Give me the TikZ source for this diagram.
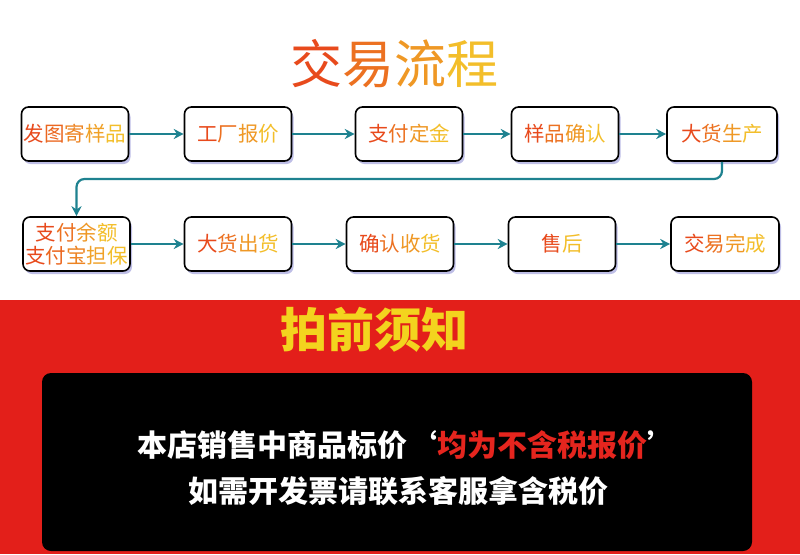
\documentclass[tikz,border=0pt]{standalone}
\usepackage{fontspec}
\setmainfont{Noto Sans CJK SC}
\usetikzlibrary{arrows.meta,shadows}

\definecolor{gradA}{HTML}{E84A1C}
\definecolor{gradB}{HTML}{F3BE2A}
\definecolor{flowteal}{HTML}{1E8290}
\definecolor{noticered}{HTML}{E31F1A}
\definecolor{noticeyellow}{HTML}{F3D41E}
\definecolor{quotered}{HTML}{E5251E}

% characters of #2 coloured from gradA to gradB, #1 = how many
\newcommand\gradtext[2]{%
  \foreach \ch [count=\i] in {#2}{%
    \pgfmathtruncatemacro\pct{100-100*(\i-1)/max(#1-1,1)}%
    \textcolor{gradA!\pct!gradB}{\ch}}}

\tikzset{
  stepbox/.style={draw=black,line width=1.6pt,fill=white,rounded corners=7pt,
    minimum width=107pt,minimum height=54pt,inner sep=0pt,
    font=\fontsize{20.5}{23}\selectfont,
    drop shadow={shadow xshift=2pt,shadow yshift=-3pt,fill=blue!45!gray,opacity=.35}},
  flow/.style={draw=flowteal,line width=2.2pt,-{Stealth[length=10pt,width=10pt]}}
}

\begin{document}
\begin{tikzpicture}[x=1pt,y=-1pt]
  \useasboundingbox (0,0) rectangle (800,554);
  \fill[white] (0,0) rectangle (800,300);
  \fill[noticered] (0,300) rectangle (800,554);

  \node (title) at (394,64) {\fontsize{52}{52}\selectfont\gradtext{4}{交,易,流,程}};

  % first row
  \node[stepbox] (n1) at (75,134) {\gradtext{5}{发,图,寄,样,品}};
  \node[stepbox] (n2) at (238,134) {\gradtext{4}{工,厂,报,价}};
  \node[stepbox] (n3) at (409,134) {\gradtext{4}{支,付,定,金}};
  \node[stepbox] (n4) at (565,134) {\gradtext{4}{样,品,确,认}};
  \node[stepbox,minimum width=110pt] (n5) at (722,134) {\gradtext{4}{大,货,生,产}};

  % second row
  \node[stepbox,align=center,font=\fontsize{20.5}{22.5}\selectfont] (n6) at (76.5,244)
    {\gradtext{4}{支,付,余,额}\\\gradtext{5}{支,付,宝,担,保}};
  \node[stepbox] (n7) at (238,244) {\gradtext{4}{大,货,出,货}};
  \node[stepbox] (n8) at (400,244) {\gradtext{4}{确,认,收,货}};
  \node[stepbox] (n9) at (562,244) {\gradtext{2}{售,后}};
  \node[stepbox,minimum width=108pt] (n10) at (725,244) {\gradtext{4}{交,易,完,成}};

  \coordinate (turn) at (400,179);

  \draw[flow] (n1.east) -- (n2.west);
  \draw[flow] (n2.east) -- (n3.west);
  \draw[flow] (n3.east) -- (n4.west);
  \draw[flow] (n4.east) -- (n5.west);
  \draw[flow,rounded corners=8pt] (n5.south) |- (turn) -| (n6.north);
  \draw[flow] (n6.east) -- (n7.west);
  \draw[flow] (n7.east) -- (n8.west);
  \draw[flow] (n8.east) -- (n9.west);
  \draw[flow] (n9.east) -- (n10.west);

  % notice panel
  \node[text=noticeyellow,font=\fontsize{47}{47}\selectfont\bfseries] (notice) at (374,330) {拍前须知};
  \fill[black,rounded corners=9pt] (42,373) rectangle (752,551);
  \node[text=white,font=\fontsize{30}{30}\selectfont\bfseries] (line1) at (407,445)
    {本店销售中商品标价‘\textcolor{quotered}{均为不含税报价}’};
  \node[text=white,font=\fontsize{30}{30}\selectfont\bfseries] (line2) at (398,491)
    {如需开发票请联系客服拿含税价};
\end{tikzpicture}
\end{document}
